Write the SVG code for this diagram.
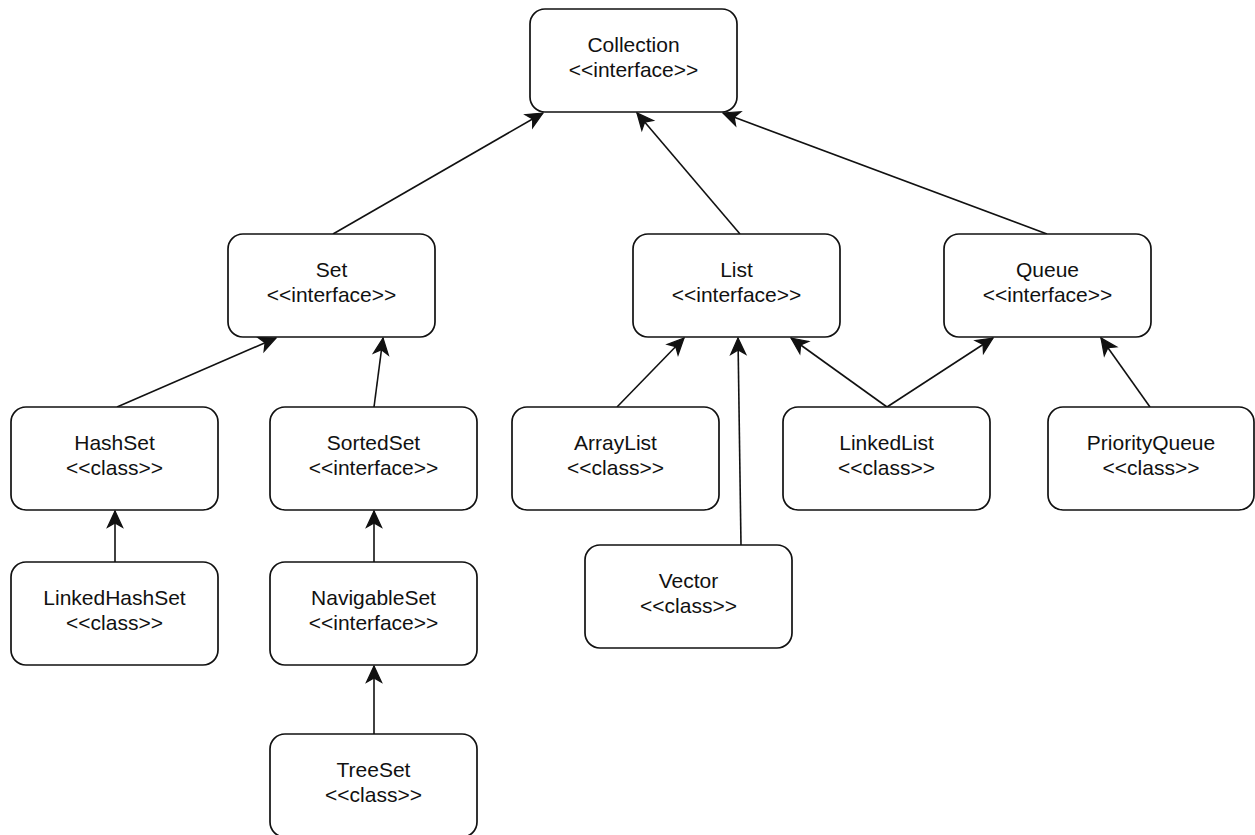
<svg xmlns="http://www.w3.org/2000/svg" width="1255" height="835" viewBox="0 0 1255 835">
<style>
.box{fill:#fff;stroke:#111;stroke-width:1.7}
.t{font-family:"Liberation Sans",Arial,Helvetica,sans-serif;font-size:21px;fill:#111;text-anchor:middle}
.c{fill:none;stroke:#111;stroke-width:1.6}
</style>
<defs>
<marker id="arr" markerUnits="userSpaceOnUse" markerWidth="20" markerHeight="20" viewBox="-15 -8 16 16" refX="0" refY="0" orient="auto">
<path d="M0,0 L-13,-6 L-9.5,0 L-13,6 Z" fill="#111" stroke="#111" stroke-width="1"/>
</marker>
</defs>
<rect width="1255" height="835" fill="#fff"/>
<g id="connectors">
<line class="c" x1="333" y1="234" x2="543" y2="113" marker-end="url(#arr)"/>
<line class="c" x1="740" y1="234" x2="637" y2="113" marker-end="url(#arr)"/>
<line class="c" x1="1047" y1="234" x2="723" y2="113" marker-end="url(#arr)"/>
<line class="c" x1="117" y1="407" x2="276" y2="338" marker-end="url(#arr)"/>
<line class="c" x1="374" y1="407" x2="383" y2="338" marker-end="url(#arr)"/>
<line class="c" x1="617" y1="407" x2="684" y2="338" marker-end="url(#arr)"/>
<line class="c" x1="741" y1="545" x2="738" y2="338" marker-end="url(#arr)"/>
<line class="c" x1="887" y1="407" x2="791" y2="338" marker-end="url(#arr)"/>
<line class="c" x1="887" y1="407" x2="993" y2="338" marker-end="url(#arr)"/>
<line class="c" x1="1150" y1="407" x2="1101" y2="338" marker-end="url(#arr)"/>
<line class="c" x1="115" y1="562" x2="115" y2="511" marker-end="url(#arr)"/>
<line class="c" x1="374" y1="562" x2="374" y2="511" marker-end="url(#arr)"/>
<line class="c" x1="374" y1="734" x2="374" y2="666" marker-end="url(#arr)"/>
</g>
<g id="collection"><rect class="box" x="530" y="9" width="207" height="103" rx="15"/><text class="t" x="633.5" y="52">Collection</text><text class="t" x="633.5" y="77">&lt;&lt;interface&gt;&gt;</text></g>
<g id="set"><rect class="box" x="228" y="234" width="207" height="103" rx="15"/><text class="t" x="331.5" y="277">Set</text><text class="t" x="331.5" y="302">&lt;&lt;interface&gt;&gt;</text></g>
<g id="list"><rect class="box" x="633" y="234" width="207" height="103" rx="15"/><text class="t" x="736.5" y="277">List</text><text class="t" x="736.5" y="302">&lt;&lt;interface&gt;&gt;</text></g>
<g id="queue"><rect class="box" x="944" y="234" width="207" height="103" rx="15"/><text class="t" x="1047.5" y="277">Queue</text><text class="t" x="1047.5" y="302">&lt;&lt;interface&gt;&gt;</text></g>
<g id="hashset"><rect class="box" x="11" y="407" width="207" height="103" rx="15"/><text class="t" x="114.5" y="450">HashSet</text><text class="t" x="114.5" y="475">&lt;&lt;class&gt;&gt;</text></g>
<g id="sortedset"><rect class="box" x="270" y="407" width="207" height="103" rx="15"/><text class="t" x="373.5" y="450">SortedSet</text><text class="t" x="373.5" y="475">&lt;&lt;interface&gt;&gt;</text></g>
<g id="arraylist"><rect class="box" x="512" y="407" width="207" height="103" rx="15"/><text class="t" x="615.5" y="450">ArrayList</text><text class="t" x="615.5" y="475">&lt;&lt;class&gt;&gt;</text></g>
<g id="linkedlist"><rect class="box" x="783" y="407" width="207" height="103" rx="15"/><text class="t" x="886.5" y="450">LinkedList</text><text class="t" x="886.5" y="475">&lt;&lt;class&gt;&gt;</text></g>
<g id="priorityqueue"><rect class="box" x="1048" y="407" width="206" height="103" rx="15"/><text class="t" x="1151" y="450">PriorityQueue</text><text class="t" x="1151" y="475">&lt;&lt;class&gt;&gt;</text></g>
<g id="vector"><rect class="box" x="585" y="545" width="207" height="103" rx="15"/><text class="t" x="688.5" y="588">Vector</text><text class="t" x="688.5" y="613">&lt;&lt;class&gt;&gt;</text></g>
<g id="linkedhashset"><rect class="box" x="11" y="562" width="207" height="103" rx="15"/><text class="t" x="114.5" y="605">LinkedHashSet</text><text class="t" x="114.5" y="630">&lt;&lt;class&gt;&gt;</text></g>
<g id="navigableset"><rect class="box" x="270" y="562" width="207" height="103" rx="15"/><text class="t" x="373.5" y="605">NavigableSet</text><text class="t" x="373.5" y="630">&lt;&lt;interface&gt;&gt;</text></g>
<g id="treeset"><rect class="box" x="270" y="734" width="207" height="103" rx="15"/><text class="t" x="373.5" y="777">TreeSet</text><text class="t" x="373.5" y="802">&lt;&lt;class&gt;&gt;</text></g>
</svg>
